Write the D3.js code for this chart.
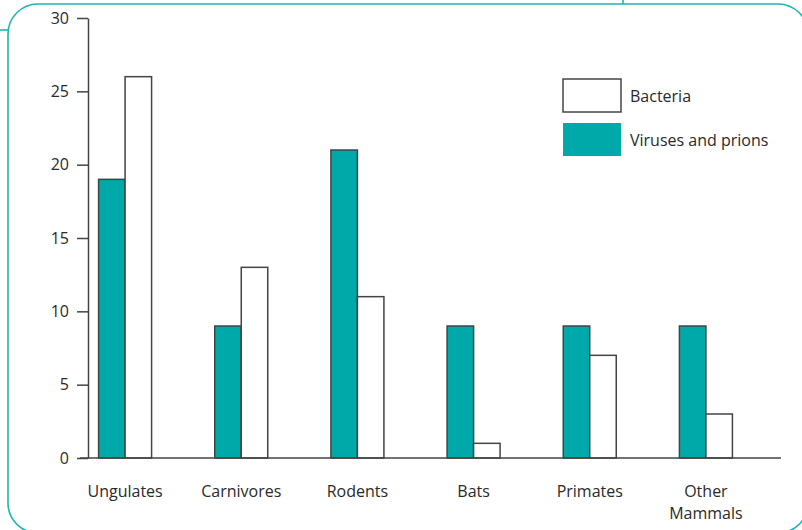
<!DOCTYPE html>
<meta charset="utf-8">
<title>Pathogens by host group</title>
<style>
  body { margin: 0; background: #fff; }
  svg text { font-family: "Open Sans", "Noto Sans", sans-serif; fill: #2a2a2a; }
</style>
<body>
<div id="container"></div>
<script src="https://cdn.jsdelivr.net/npm/d3@7/dist/d3.min.js"></script>
<script>

  const categories = ["Ungulates", "Carnivores", "Rodents", "Bats", "Primates", "Other Mammals"];
  const viruses = [19, 9, 21, 9, 9, 9];
  const bacteria = [26, 13, 11, 1, 7, 3];
  const yTicks = [0, 5, 10, 15, 20, 25, 30];
  const seriesNames = ["Bacteria", "Viruses and prions"];

  const width = 802;
  const height = 530;
  const teal = "#00a9a9";
  const ink = "#444";

  const svg = d3.select("#container")
    .append("svg")
    .attr("width", width)
    .attr("height", height);

  // decorative frame
  svg.append("rect")
    .attr("x", 8).attr("y", 4)
    .attr("width", 800).attr("height", 529)
    .attr("rx", 30).attr("ry", 30)
    .attr("fill", "none")
    .attr("stroke", "#1cb4b4")
    .attr("stroke-width", 1.6);
  svg.append("line")
    .attr("x1", 0).attr("x2", 8).attr("y1", 30).attr("y2", 30)
    .attr("stroke", "#1cb4b4").attr("stroke-width", 1.6);
  svg.append("line")
    .attr("x1", 623).attr("x2", 623).attr("y1", 0).attr("y2", 4)
    .attr("stroke", "#1cb4b4").attr("stroke-width", 1.6);

  const y = d3.scaleLinear().domain([0, 30]).range([458, 18]);
  const x = d3.scalePoint().domain(categories).range([67, 764]).padding(0.5);
  const barW = 26.5;

  // y axis
  const yAxis = svg.append("g")
    .attr("transform", "translate(88,0)")
    .call(d3.axisLeft(y).tickValues(yTicks).tickSize(11).tickPadding(8).tickSizeOuter(0));
  yAxis.select(".domain").attr("stroke", ink).attr("stroke-width", 1.5);
  yAxis.selectAll(".tick line").attr("stroke", ink).attr("stroke-width", 1.5);
  yAxis.selectAll(".tick text")
    .attr("font-size", 16)
    .attr("font-family", "'Open Sans', 'Noto Sans', sans-serif")
    .attr("fill", "#2a2a2a");

  // bars
  const rows = categories.map((c, i) => ({ cat: c, v: viruses[i], b: bacteria[i] }));

  svg.append("g").selectAll("rect")
    .data(rows)
    .join("rect")
    .attr("x", d => x(d.cat) - barW)
    .attr("y", d => y(d.v))
    .attr("width", barW)
    .attr("height", d => y(0) - y(d.v))
    .attr("fill", teal)
    .attr("stroke", ink)
    .attr("stroke-width", 1.5);

  svg.append("g").selectAll("rect")
    .data(rows)
    .join("rect")
    .attr("x", d => x(d.cat))
    .attr("y", d => y(d.b))
    .attr("width", barW)
    .attr("height", d => y(0) - y(d.b))
    .attr("fill", "#fff")
    .attr("stroke", ink)
    .attr("stroke-width", 1.5);

  // baseline
  svg.append("line")
    .attr("x1", 80).attr("x2", 781)
    .attr("y1", y(0)).attr("y2", y(0))
    .attr("stroke", ink).attr("stroke-width", 1.5);

  // category labels
  svg.append("g").selectAll("text")
    .data(categories)
    .join("text")
    .attr("x", d => x(d))
    .attr("y", 497)
    .attr("text-anchor", "middle")
    .attr("font-size", 16)
    .each(function(d) {
      const words = d === "Other Mammals" ? ["Other", "Mammals"] : [d];
      d3.select(this).selectAll("tspan")
        .data(words)
        .join("tspan")
        .attr("x", x(d))
        .attr("dy", (w, i) => i ? 22 : 0)
        .text(w => w);
    });

  // legend
  const legend = svg.append("g").attr("transform", "translate(563,79)");
  legend.selectAll("rect")
    .data(seriesNames)
    .join("rect")
    .attr("x", 0)
    .attr("y", (d, i) => i * 44)
    .attr("width", 58)
    .attr("height", 33)
    .attr("fill", (d, i) => i ? teal : "#fff")
    .attr("stroke", (d, i) => i ? "none" : ink)
    .attr("stroke-width", 1.5);
  legend.selectAll("text")
    .data(seriesNames)
    .join("text")
    .attr("x", 67)
    .attr("y", (d, i) => i * 44 + 17)
    .attr("dy", "0.35em")
    .attr("font-size", 16)
    .text(d => d);

</script>
</body>
